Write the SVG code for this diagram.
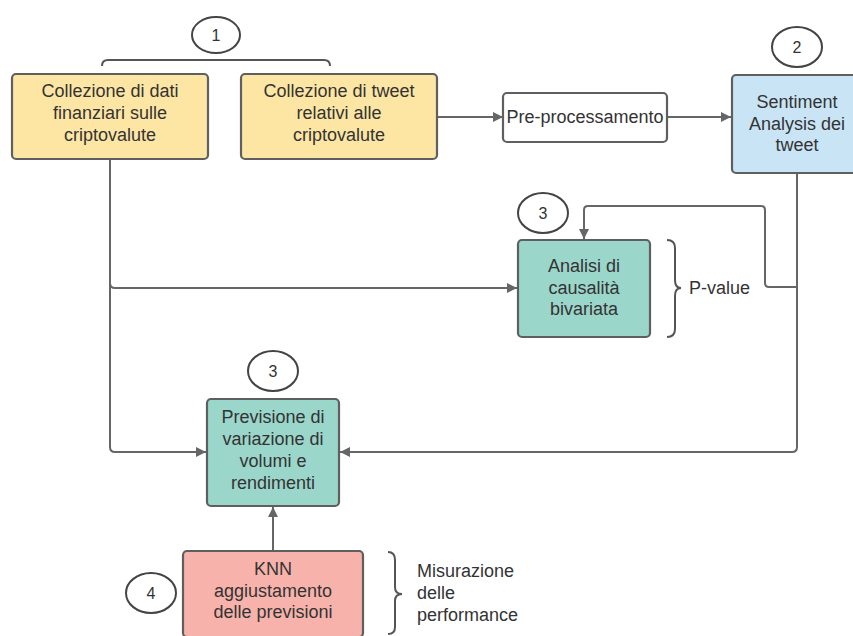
<svg xmlns="http://www.w3.org/2000/svg" width="853" height="636" viewBox="0 0 853 636">
<style>
.box{stroke:#5f5f5f;stroke-width:2.2}
.t{font-family:"Liberation Sans",Arial,sans-serif;font-size:18px;fill:#333;text-anchor:middle}
.tl{font-family:"Liberation Sans",Arial,sans-serif;font-size:18px;fill:#333}
.num{font-family:"Liberation Sans",Arial,sans-serif;font-size:16px;fill:#333;text-anchor:middle}
.c{fill:#fff;stroke:#444;stroke-width:2}
.ln{fill:none;stroke:#666;stroke-width:2}
.br{fill:none;stroke:#555;stroke-width:2}
</style>
<defs>
<marker id="ah" viewBox="0 0 10 10" refX="10" refY="5" markerWidth="10" markerHeight="10" markerUnits="userSpaceOnUse" orient="auto">
<path d="M0,0 L10,5 L0,10 z" fill="#666"/>
</marker>
</defs>
<rect width="853" height="636" fill="#fff"/>
<g id="connectors">
<path class="ln" d="M437,117 H503" marker-end="url(#ah)"/>
<path class="ln" d="M667,117 H731" marker-end="url(#ah)"/>
<path class="ln" d="M110,159 V447 Q110,452 115,452 H206" marker-end="url(#ah)"/>
<path class="ln" d="M110,283 Q110,288 115,288 H517" marker-end="url(#ah)"/>
<path class="ln" d="M797,174 V447 Q797,452 792,452 H340" marker-end="url(#ah)"/>
<path class="ln" d="M797,287 H769 Q765,287 765,283 V210 Q765,206 761,206 H588 Q584,206 584,210 V239" marker-end="url(#ah)"/>
<path class="ln" d="M273,551 V507" marker-end="url(#ah)"/>
</g>
<g id="bracket-top">
<path class="br" d="M102,66 Q102,60 108,60 H324 Q330,60 330,66"/>
</g>
<g id="circle-1">
<ellipse class="c" cx="216" cy="35" rx="24" ry="18"/>
<text class="num" x="216" y="41">1</text>
</g>
<g id="node-dati">
<rect class="box" x="12" y="74" width="196" height="85" rx="4" fill="#fde6a4"/>
<text class="t" x="110" y="97">Collezione di dati</text>
<text class="t" x="110" y="119">finanziari sulle</text>
<text class="t" x="110" y="141">criptovalute</text>
</g>
<g id="node-tweet">
<rect class="box" x="241" y="74" width="196" height="85" rx="4" fill="#fde6a4"/>
<text class="t" x="339" y="97">Collezione di tweet</text>
<text class="t" x="339" y="119">relativi alle</text>
<text class="t" x="339" y="141">criptovalute</text>
</g>
<g id="node-pre">
<rect class="box" x="503" y="93" width="164" height="49" rx="4" fill="#fff"/>
<text class="t" x="585" y="123">Pre-processamento</text>
</g>
<g id="circle-2">
<ellipse class="c" cx="797" cy="47" rx="25" ry="20"/>
<text class="num" x="797" y="53">2</text>
</g>
<g id="node-sentiment">
<rect class="box" x="732" y="75" width="130" height="98" rx="4" fill="#c9e4f5"/>
<text class="t" x="797" y="108">Sentiment</text>
<text class="t" x="797" y="130">Analysis dei</text>
<text class="t" x="797" y="151">tweet</text>
</g>
<g id="circle-3a">
<ellipse class="c" cx="543" cy="213" rx="25" ry="20"/>
<text class="num" x="543" y="219">3</text>
</g>
<g id="node-analisi">
<rect class="box" x="518" y="240" width="132" height="97" rx="4" fill="#9bd6cb"/>
<text class="t" x="584" y="272">Analisi di</text>
<text class="t" x="584" y="294">causalità</text>
<text class="t" x="584" y="315">bivariata</text>
</g>
<g id="pvalue">
<path class="br" d="M667,240 Q675,240 675,248 V280 Q675,288 681,288 Q675,288 675,296 V329 Q675,337 667,337"/>
<text class="tl" x="689" y="294">P-value</text>
</g>
<g id="circle-3b">
<ellipse class="c" cx="273" cy="371" rx="25" ry="20"/>
<text class="num" x="273" y="377">3</text>
</g>
<g id="node-previsione">
<rect class="box" x="207" y="399" width="132" height="107" rx="4" fill="#9bd6cb"/>
<text class="t" x="273" y="423">Previsione di</text>
<text class="t" x="273" y="445">variazione di</text>
<text class="t" x="273" y="467">volumi e</text>
<text class="t" x="273" y="489">rendimenti</text>
</g>
<g id="circle-4">
<ellipse class="c" cx="151" cy="593" rx="25" ry="20"/>
<text class="num" x="151" y="599">4</text>
</g>
<g id="node-knn">
<rect class="box" x="183" y="551" width="180" height="86" rx="4" fill="#f7b3ab"/>
<text class="t" x="273" y="575">KNN</text>
<text class="t" x="273" y="597">aggiustamento</text>
<text class="t" x="273" y="618">delle previsioni</text>
</g>
<g id="performance">
<path class="br" d="M388,552 Q395,552 395,560 V587 Q395,594 402,594 Q395,594 395,601 V627 Q395,634 388,634"/>
<text class="tl" x="417" y="577">Misurazione</text>
<text class="tl" x="417" y="599">delle</text>
<text class="tl" x="417" y="621">performance</text>
</g>
</svg>
